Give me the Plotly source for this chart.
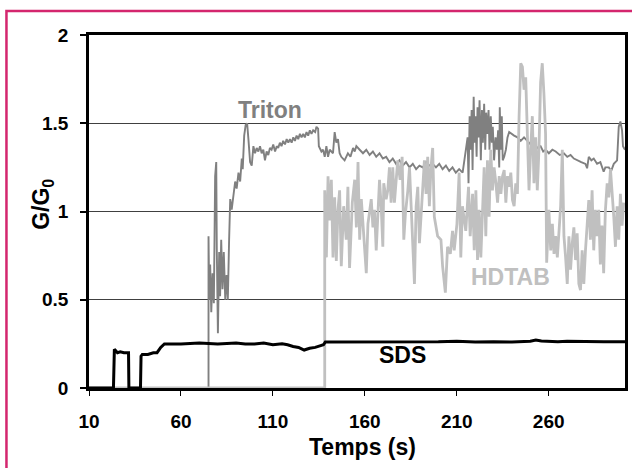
import plotly.graph_objects as go

# ---------------- data ----------------
sds_t = [10, 23.3, 23.8, 24.5, 25.5, 27, 29, 31.5, 31.7, 38, 38.3, 39, 42, 45, 47, 49, 51, 55, 60, 70,
         80, 90, 95, 100, 105, 110, 115, 118, 121, 124, 127, 130, 133, 136, 137.5, 138.5, 145, 150, 155,
         160, 170, 180, 190, 200, 210, 220, 230, 240, 250, 253, 256, 260, 265, 270, 280, 290, 301.5]
sds_v = [0, 0, 0.22, 0.21, 0.20, 0.205, 0.20, 0.20, 0, 0, 0.18, 0.19, 0.19, 0.20, 0.20, 0.23, 0.25, 0.25,
         0.25, 0.255, 0.25, 0.255, 0.25, 0.25, 0.255, 0.245, 0.25, 0.245, 0.235, 0.23, 0.215, 0.225, 0.23,
         0.24, 0.245, 0.26, 0.26, 0.262, 0.258, 0.26, 0.26, 0.262, 0.26, 0.262, 0.265, 0.26, 0.262, 0.26,
         0.265, 0.272, 0.266, 0.265, 0.262, 0.265, 0.262, 0.262, 0.262]

triton_t = [10, 75.0, 75.0, 75.4, 75.9, 76.5, 77.2, 77.9, 78.6, 79.2, 79.5, 80.1, 80.8, 81.3, 81.9, 82.6,
            83.3, 84.1, 84.8, 85.5, 86.2, 86.8, 87.6, 88.6, 89.5, 90.3, 91.3, 92.2, 93.1, 93.6, 94.4,
            95.2, 96.0, 96.7, 97.6, 98.5, 99.4,
            100.3, 101.2, 102.1, 103.0, 103.9, 104.8, 105.7, 106.6, 107.5, 108.4, 109.3, 110.2, 111.2,
            112.1, 112.9, 113.8, 114.7, 115.6, 116.6, 117.5, 118.4, 119.3, 120.2, 121.1, 122.0, 122.9,
            123.8, 124.7, 125.6, 126.5, 127.4, 128.3, 129.2, 130.1, 131.0, 131.9, 133.0, 133.7, 134.6,
            135.0, 136.4, 137.3, 138.2, 139.1, 140.0, 140.9, 142.7, 143.6, 144.5, 145.4, 146.3, 147.2,
            149.0, 150.8, 152.2, 153.6, 154.5, 155.4, 157.2, 159.0, 160.8, 162.6, 164.4, 166.2, 168.0,
            169.8, 171.6, 173.4, 175.2, 177.0, 178.8, 180.6, 182.4, 184.3, 186.1, 187.9, 189.7, 191.5,
            193.3, 195.1, 196.9, 198.7, 200.5, 202.3, 204.1, 205.9, 207.7, 209.5, 211.3, 213.2,
            215.9, 216.4, 217.0, 217.5, 218.1, 218.6, 219.2, 219.7, 220.2, 220.8, 221.3, 221.9, 222.4,
            223.1, 223.7, 224.2, 224.9, 225.5, 226.0, 226.7, 227.3, 227.8, 228.5, 229.1, 229.6, 230.3,
            231.1, 231.8, 232.5, 233.1, 233.4, 234.0, 234.5, 235.0, 235.8, 236.7, 237.6, 238.5, 241.2,
            243.0, 244.8, 246.6, 248.4, 250.2, 252.0, 253.8, 255.6, 257.0, 258.3, 260.1, 262.0, 263.8,
            266.0, 268.3, 270.1, 271.9, 273.7, 275.5, 277.7, 280.0, 280.9, 281.8, 283.2, 284.5, 286.3,
            288.1, 289.9, 290.8, 292.7, 294.0, 295.4, 297.2, 298.1, 299.0, 299.9, 300.4, 301.5]
triton_v = [0, 0, 0.86, 0.50, 0.70, 0.43, 0.65, 0.48, 1.20, 1.28, 0.79, 0.31, 0.77, 0.52, 0.84, 0.56,
            0.77, 0.50, 0.64, 0.50, 0.84, 1.07, 1.01, 1.09, 1.17, 1.13, 1.22, 1.17, 1.30, 1.24, 1.43,
            1.49, 1.50, 1.41, 1.28, 1.26, 1.37,
            1.33, 1.36, 1.34, 1.37, 1.33, 1.35, 1.29, 1.34, 1.32, 1.36, 1.35, 1.38, 1.34,
            1.37, 1.36, 1.39, 1.37, 1.40, 1.38, 1.41, 1.39, 1.41, 1.39, 1.42, 1.40, 1.43,
            1.41, 1.44, 1.42, 1.44, 1.42, 1.45, 1.43, 1.46, 1.44, 1.46, 1.45, 1.48, 1.47,
            1.37, 1.34, 1.35, 1.31, 1.37, 1.31, 1.35, 1.33, 1.45, 1.39, 1.41, 1.33, 1.31,
            1.29, 1.33, 1.31, 1.36, 1.34, 1.37, 1.35, 1.33, 1.35, 1.32, 1.34, 1.31, 1.33,
            1.30, 1.31, 1.28, 1.30, 1.27, 1.29, 1.26, 1.28, 1.25, 1.27, 1.24, 1.26, 1.25,
            1.28, 1.26, 1.27, 1.25, 1.27, 1.24, 1.26, 1.23, 1.25, 1.22, 1.24, 1.22,
            1.42, 1.16, 1.54, 1.35, 1.575, 1.235, 1.65, 1.39, 1.54, 1.31, 1.59, 1.42, 1.63,
            1.29, 1.575, 1.39, 1.61, 1.35, 1.56, 1.44, 1.575, 1.35, 1.54, 1.39, 1.48, 1.29,
            1.42, 1.35, 1.46, 1.25, 1.59, 1.35, 1.54, 1.29, 1.31, 1.35, 1.42, 1.45, 1.43,
            1.42, 1.40, 1.42, 1.40, 1.38, 1.38, 1.36, 1.37, 1.34, 1.35, 1.33, 1.35, 1.34,
            1.32, 1.33, 1.31, 1.32, 1.30, 1.29, 1.28, 1.27, 1.245, 1.31, 1.29, 1.30, 1.27,
            1.28, 1.225, 1.25, 1.25, 1.23, 1.27, 1.29, 1.48, 1.51, 1.46, 1.37, 1.35]

hdtab_t = [10, 138.2, 138.2, 139.1, 140.0, 140.9, 141.8, 142.7, 143.6, 144.5, 145.4, 146.3, 147.2,
           148.5, 149.9, 150.8, 151.7, 153.2, 154.5, 155.4, 156.3, 157.2, 158.1, 159.0, 160.8, 161.7,
           162.6, 163.5, 164.4, 165.3, 166.2, 168.0, 168.9, 169.8, 170.3, 171.6, 172.5, 173.4, 174.3,
           175.2, 176.1, 177.0, 177.9, 179.2, 180.3, 181.2, 182.1, 183.4, 184.3, 185.2, 186.1, 187.0,
           187.9, 188.8, 189.7, 191.5, 192.4, 193.3, 194.2, 195.1, 196.0, 196.9, 197.8, 199.6, 201.4,
           202.3, 203.8, 205.0, 206.5, 207.7, 208.6, 210.1, 211.3, 212.2, 213.1, 214.9, 216.4,
           217.3, 218.6, 219.5, 220.4, 221.3, 222.2, 223.1, 224.0, 224.9, 225.8, 226.7, 227.6, 228.5,
           229.4, 230.3, 231.3, 232.2, 233.1, 234.0, 234.9, 235.8, 236.7, 237.6, 238.5, 239.4, 240.3,
           241.2, 242.1, 243.0, 243.9, 244.8, 245.7, 246.6, 247.5, 248.4, 249.3, 250.2, 251.1, 252.0,
           252.9, 253.8, 254.7, 255.6, 256.5, 257.4, 258.3, 258.9, 260.1, 261.1, 262.0, 262.9, 263.8,
           264.7, 265.6, 266.5, 267.4, 268.3, 269.2, 270.1, 271.0, 271.9, 272.8, 273.7, 274.6, 275.5,
           276.4, 277.3, 278.2, 279.1, 280.0, 280.9, 281.8, 282.7, 283.6, 284.5, 285.4, 286.3, 287.2,
           288.1, 289.0, 289.9, 290.8, 291.8, 292.7, 293.6, 294.5, 295.4, 296.3, 297.2, 298.1, 299.0,
           299.9, 300.8]
hdtab_v = [0, 0, 1.12, 0.74, 1.20, 0.95, 1.18, 0.74, 1.08, 0.72, 1.01, 1.12, 0.69,
           1.03, 0.84, 1.14, 0.68, 1.05, 1.18, 0.91, 1.28, 0.84, 1.07, 0.91, 0.65, 0.93,
           0.99, 1.07, 0.91, 1.01, 0.78, 1.18, 1.03, 0.80, 1.16, 1.07, 1.12, 1.25, 1.05,
           1.25, 1.05, 1.20, 1.29, 1.18, 1.31, 0.84, 0.99, 1.12, 1.25, 1.03, 0.80, 0.59,
           1.03, 1.14, 0.82, 1.10, 1.29, 1.10, 1.31, 1.03, 1.25, 1.36, 0.97, 0.86, 0.84,
           0.69, 0.54, 0.80, 0.76, 0.89, 0.78, 0.93, 1.22, 0.74, 1.03, 0.89, 1.14,
           0.86, 1.10, 0.78, 1.12, 0.725, 1.01, 0.74, 1.065, 1.25, 0.86, 1.29, 0.97, 1.35,
           1.12, 1.25, 1.16, 1.05, 1.20, 1.10, 1.20, 1.235, 1.05, 1.20, 1.14, 1.22, 1.065,
           1.03, 1.16, 1.10, 1.54, 1.84, 1.82, 1.69, 1.76, 1.42, 1.12, 1.35, 1.54, 1.16,
           1.42, 1.12, 1.35, 1.73, 1.84, 1.67, 1.44, 0.71, 1.01, 0.78, 0.93, 0.76, 0.86,
           0.74, 0.895, 1.03, 1.35, 0.86, 0.74, 0.59, 0.86, 0.67, 0.82, 0.91, 0.725, 0.876,
           0.59, 0.555, 0.78, 0.59, 0.78, 0.93, 1.065, 0.84, 1.12, 0.78, 1.01, 0.86, 1.01,
           0.70, 0.92, 0.65, 1.00, 1.16, 1.08, 1.24, 1.12, 0.97, 0.80, 1.03, 0.84, 1.10,
           0.92, 1.05]

x_ticks = [10, 60, 110, 160, 210, 260]
y_ticks = [0, 0.5, 1, 1.5, 2]
y_tick_text = ["0", "0.5", "1", "1.5", "2"]

FONT = "Liberation Sans, Arial, sans-serif"

fig = go.Figure()
fig.add_trace(go.Scatter(x=triton_t, y=triton_v, mode="lines", name="Triton",
                         line=dict(color="#808080", width=1.9)))
fig.add_trace(go.Scatter(x=hdtab_t, y=hdtab_v, mode="lines", name="HDTAB",
                         line=dict(color="#C0C0C0", width=2.8)))
fig.add_trace(go.Scatter(x=sds_t, y=sds_v, mode="lines", name="SDS",
                         line=dict(color="#000000", width=3)))

fig.update_layout(
    width=632, height=468,
    margin=dict(l=89, r=4, t=35, b=80),
    paper_bgcolor="white", plot_bgcolor="white",
    showlegend=False,
    font=dict(family=FONT, color="black"),
    xaxis=dict(range=[10, 301.5], tickvals=x_ticks, showgrid=False, zeroline=False,
               showline=True, linecolor="black", linewidth=2.5, mirror=True,
               ticks="outside", ticklen=5, tickwidth=1, tickcolor="black",
               ticklabelstandoff=9,
               tickfont=dict(size=19, family=FONT, weight="bold")),
    yaxis=dict(range=[0, 2], tickvals=y_ticks, ticktext=y_tick_text,
               showgrid=True, gridcolor="#404040", gridwidth=1, zeroline=False,
               showline=True, linecolor="black", linewidth=2.5, mirror=True,
               ticks="outside", ticklen=6, tickwidth=2, tickcolor="black",
               ticklabelstandoff=8,
               tickfont=dict(size=19, family=FONT, weight="bold")),
)

# axis titles
fig.add_annotation(text="Temps (s)", xref="paper", yref="paper", x=0.51, y=-0.167,
                   xanchor="center", yanchor="middle", showarrow=False,
                   font=dict(size=23, family=FONT, weight="bold", color="black"))
fig.add_annotation(text="G/G<sub>0</sub>", xref="paper", yref="paper", x=-0.087, y=0.52,
                   xanchor="center", yanchor="middle", showarrow=False, textangle=-90,
                   font=dict(size=23, family=FONT, weight="bold", color="black"))

# series labels
fig.add_annotation(text="Triton", x=108.6, y=1.575, showarrow=False,
                   font=dict(size=23, family=FONT, weight="bold", color="#808080"))
fig.add_annotation(text="HDTAB", x=239.2, y=0.63, showarrow=False,
                   font=dict(size=23, family=FONT, weight="bold", color="#C0C0C0"))
fig.add_annotation(text="SDS", x=180.7, y=0.187, showarrow=False,
                   font=dict(size=23, family=FONT, weight="bold", color="black"))

# pink outer frame
fig.add_shape(type="rect", xref="paper", yref="paper", x0=-0.154, y0=-0.5, x1=1.3, y1=1.068,
              line=dict(color="#D4266E", width=2.5), layer="above")

fig.write_html("out.html")
